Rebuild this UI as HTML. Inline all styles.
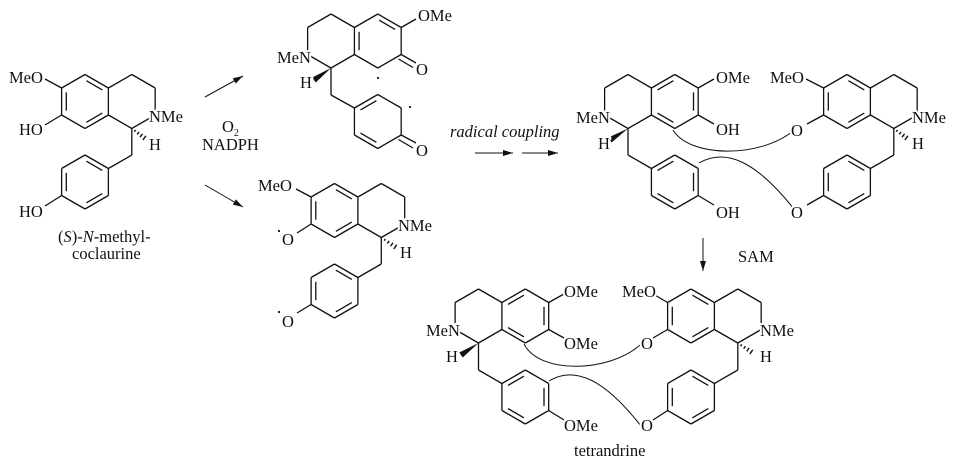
<!DOCTYPE html>
<html><head><meta charset="utf-8">
<style>
html,body{margin:0;padding:0;background:#fff;}
svg{display:block;}
text{font-family:"Liberation Serif",serif;font-size:16.5px;fill:#111;stroke:#fff;stroke-width:4px;paint-order:stroke;stroke-linejoin:round;}
.it{font-style:italic;}
</style></head>
<body>
<svg id="s" width="957" height="463" viewBox="0 0 957 463" xmlns="http://www.w3.org/2000/svg">
<g id="g" stroke="#111" stroke-width="1.3" fill="none"></g>
<g id="t">
<text x="9" y="83">MeO</text>
<text x="19" y="135">HO</text>
<text x="149" y="122">NMe</text>
<text x="149" y="150">H</text>
<text x="19" y="217">HO</text>
<text x="58" y="242"><tspan>(</tspan><tspan class="it">S</tspan><tspan>)-</tspan><tspan class="it">N</tspan><tspan>-methyl-</tspan></text>
<text x="72" y="259">coclaurine</text>
<text x="222" y="132">O<tspan font-size="10" dy="4">2</tspan></text>
<text x="202" y="150">NADPH</text>
<text x="418" y="21">OMe</text>
<text x="277" y="63">MeN</text>
<text x="300" y="88">H</text>
<text x="416" y="75">O</text>
<text x="416" y="156">O</text>
<text x="258" y="191">MeO</text>
<text x="282" y="245">O</text>
<text x="398" y="231">NMe</text>
<text x="400" y="258">H</text>
<text x="282" y="327">O</text>
<text x="450" y="137" class="it">radical coupling</text>
<text x="716" y="83">OMe</text>
<text x="716" y="135">OH</text>
<text x="576" y="123">MeN</text>
<text x="598" y="149">H</text>
<text x="716" y="218">OH</text>
<text x="770" y="83">MeO</text>
<text x="791" y="136">O</text>
<text x="912" y="123">NMe</text>
<text x="912" y="149">H</text>
<text x="791" y="218">O</text>
<text x="738" y="262">SAM</text>
<text x="564" y="297">OMe</text>
<text x="564" y="349">OMe</text>
<text x="426" y="336">MeN</text>
<text x="446" y="362">H</text>
<text x="564" y="431">OMe</text>
<text x="622" y="297">MeO</text>
<text x="641" y="349">O</text>
<text x="760" y="336">NMe</text>
<text x="760" y="362">H</text>
<text x="641" y="431">O</text>
<text x="574" y="456">tetrandrine</text>
</g>
</svg>
<script>
(function(){
var g=document.getElementById('g'),h='';
function L(a,b,c,d,w){h+='<line x1="'+a+'" y1="'+b+'" x2="'+c+'" y2="'+d+'"'+(w?' stroke-width="'+w+'"':'')+'/>';}
function P(d,w){h+='<path d="'+d+'"'+(w?' stroke-width="'+w+'"':'')+'/>';}
var R=27,dx=R*0.866;
function V(cx,cy){return [[cx,cy-R],[cx+dx,cy-R/2],[cx+dx,cy+R/2],[cx,cy+R],[cx-dx,cy+R/2],[cx-dx,cy-R/2]];}
function ring(cx,cy,dbl,skip){var v=V(cx,cy);skip=skip||[];
 for(var i=0;i<6;i++){if(skip.indexOf(i)>=0)continue;var p=v[i],q=v[(i+1)%6];L(p[0],p[1],q[0],q[1]);}
 (dbl||[]).forEach(function(i){var p=v[i],q=v[(i+1)%6],k=0.2;
  var a=[p[0]+k*(cx-p[0]),p[1]+k*(cy-p[1])],b=[q[0]+k*(cx-q[0]),q[1]+k*(cy-q[1])];
  var mx=(a[0]+b[0])/2,my=(a[1]+b[1])/2,s=0.85;
  L(mx+(a[0]-mx)*s,my+(a[1]-my)*s,mx+(b[0]-mx)*s,my+(b[1]-my)*s);});
 return v;}
function wedge(x1,y1,x2,y2){var ang=Math.atan2(y2-y1,x2-x1),nx=-Math.sin(ang)*3,ny=Math.cos(ang)*3;
 h+='<polygon fill="#111" stroke="none" points="'+x1+','+y1+' '+(x2+nx)+','+(y2+ny)+' '+(x2-nx)+','+(y2-ny)+'"/>';}
function hash(x1,y1,x2,y2){for(var i=1;i<=4;i++){var t=i/4.5,x=x1+(x2-x1)*t,y=y1+(y2-y1)*t,w=0.6+i*0.5;
 var ang=Math.atan2(y2-y1,x2-x1),nx=-Math.sin(ang)*w,ny=Math.cos(ang)*w;L(x+nx,y+ny,x-nx,y-ny,1.4);}}
function arrow(x1,y1,x2,y2){L(x1,y1,x2,y2,1);var a=Math.atan2(y2-y1,x2-x1),l=10,w=3;
 var bx=x2-Math.cos(a)*l,by=y2-Math.sin(a)*l,nx=-Math.sin(a)*w,ny=Math.cos(a)*w;
 h+='<polygon fill="#111" stroke="none" points="'+x2+','+y2+' '+(bx+nx)+','+(by+ny)+' '+(bx-nx)+','+(by-ny)+'"/>';}
function dot(x,y){h+='<circle cx="'+x+'" cy="'+y+'" r="1.1" fill="#111" stroke="none"/>';}
ring(85,101.5,[0,2,4]); ring(131.8,101.5,[],[4]);
L(61.6,88,45,79); L(61.6,115,45,125);
L(131.8,128.5,131.8,155); L(131.8,155,108.4,168.5);
hash(131.8,128.5,146,139);
ring(85,182,[0,2,4]); L(61.6,195.5,45,206);
arrow(205,97,243,76); arrow(205,185,243,207);
ring(331,41,[],[1]); ring(377.8,41,[0,4]);
L(401.2,54.5,416,63); L(398.5,59,413,67.5);
L(401.2,27.5,416,19);
wedge(331,68,314,80);
L(331,68,331,95); L(331,95,354.4,108);
ring(377.8,121.5,[5,3]);
L(401.2,135,416,143); L(398.5,139.5,413,148);
dot(378,78); dot(410,107);
ring(334.5,210.5,[0,2,4]); ring(381.3,210.5,[],[4]);
L(311.1,197,296,189); L(311.1,224,297,233);
hash(381.3,237.5,397,248);
L(381.3,237.5,381.3,264); L(381.3,264,357.9,277.5);
ring(334.5,291,[0,2,4]); L(311.1,304.5,297,313);
dot(279,231); dot(279,312);
arrow(475,153,513,153); arrow(522,153,558,153);
ring(628,101.5,[],[1]); ring(674.8,101.5,[5,1,3]);
L(698.2,88,714,79); L(698.2,115,714,124);
wedge(628,128.5,610,140);
L(628,128.5,628,155); L(628,155,651.4,168.5);
ring(674.8,182,[5,1,3]); L(698.2,195.5,714,205);
ring(847,101.5,[0,2,4]); ring(893.8,101.5,[],[4]);
L(823.6,88,806,79); L(823.6,115,807,124);
hash(893.8,128.5,908,139);
L(893.8,128.5,893.8,155); L(893.8,155,870.4,168.5);
ring(847,182,[0,2,4]); L(823.6,195.5,807,205);
P('M673,130 C690,158 760,158 793,131',1);
P('M699,163 C725,148 755,160 794,209',1);
arrow(703,238,703,271);
ring(478.5,316,[],[1]); ring(525.3,316,[5,1,3]);
L(548.7,302.5,564,294); L(548.7,329.5,564,338);
wedge(478.5,343,461,355);
L(478.5,343,478.5,370); L(478.5,370,501.9,383.5);
ring(525.3,397,[5,1,3]); L(548.7,410.5,564,420);
ring(691,316,[0,2,4]); ring(737.8,316,[],[4]);
L(667.6,302.5,653,294); L(667.6,329.5,653,338);
hash(737.8,343,753,353);
L(737.8,343,737.8,370); L(737.8,370,714.4,383.5);
ring(691,397,[0,2,4]); L(667.6,410.5,653,420);
P('M524,344 C540,375 610,372 640,345',1);
P('M549,381 C575,365 605,380 641,426',1);
g.innerHTML=h;
})();
</script>
</body></html>
